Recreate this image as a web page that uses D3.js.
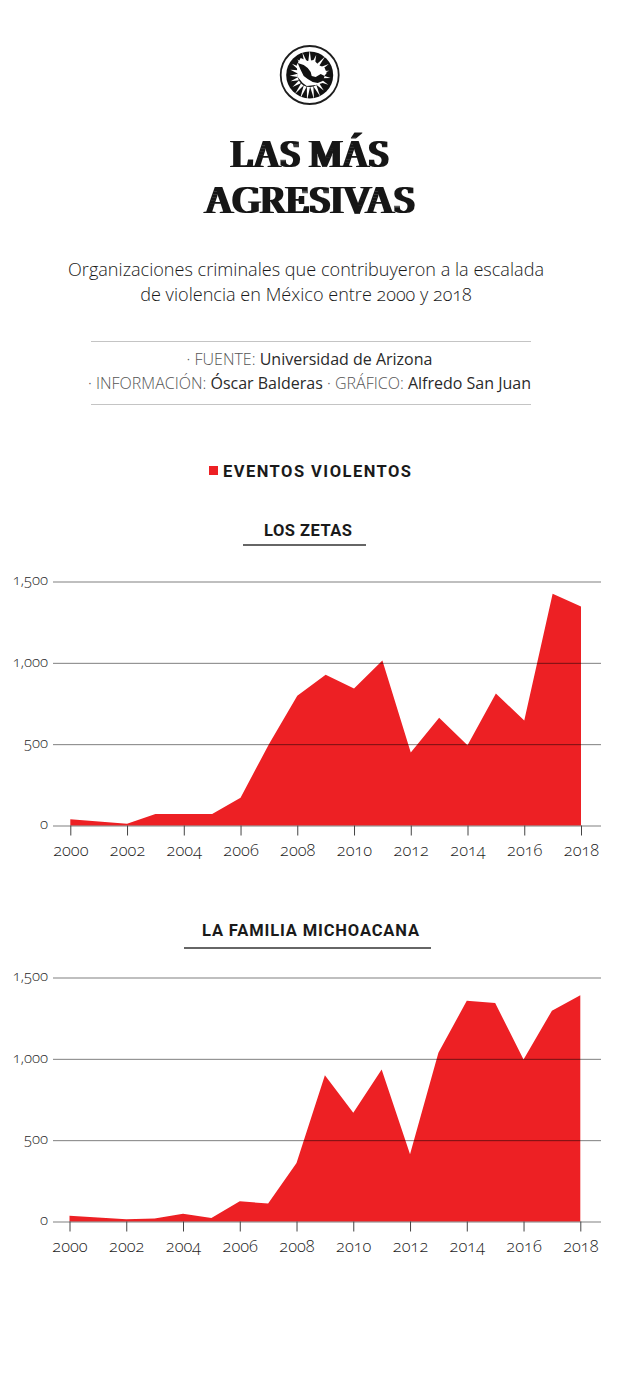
<!DOCTYPE html>
<html><head><meta charset="utf-8">
<script src="https://cdnjs.cloudflare.com/ajax/libs/d3/7.8.5/d3.min.js"></script>
<style>
html,body{margin:0;padding:0;background:#fff}
svg{display:block}
text{font-family:"Open Sans",sans-serif;fill:#1a1a1a}
.ax{font-family:"Open Sans",sans-serif;font-weight:300;font-size:16.5px;font-feature-settings:"onum" 1;fill:#1f1f1f}
.ay{font-size:15px}
.head{font-family:Roboto,sans-serif;font-weight:700;fill:#1a1a1a}
.ttl{font-family:"Liberation Serif",serif;font-weight:400;font-size:39px;fill:#161616}
</style></head><body>
<div id="c"></div>
<script>
const years = d3.range(2000, 2019);
const zetas = [39,25,10,70,70,70,170,500,797,926,842,1014,449,662,494,811,645,1424,1346];
const familia = [35,25,14,18,47,22,125,110,360,899,668,934,414,1037,1357,1343,996,1296,1391];
const yTicks = [0,500,1000,1500];
const xTicks = d3.range(2000,2019,2);
const panels = [
 {name:"LOS ZETAS", values:zetas, top:581.5, bottom:825.5, x0:70.3, x1:581, titleX:264, titleY:535.7, rule:[243,366], ruleY:545, len:88},
 {name:"LA FAMILIA MICHOACANA", values:familia, top:977.5, bottom:1221.5, x0:69.5, x1:580.3, titleX:202, titleY:936, rule:[184,431], ruleY:948, len:217}
];
const W=618,H=1383;
const RED="#ed2024";
const svg=d3.select("#c").append("svg").attr("width",W).attr("height",H);
const defs=svg.append("defs");
defs.append("filter").attr("id","didone").attr("x","-5%").attr("y","-5%").attr("width","110%").attr("height","110%")
 .append("feMorphology").attr("operator","dilate").attr("radius","1.8 0");

// logo
const logo=svg.append("g").attr("transform","translate(309.7,75)");
logo.append("circle").attr("r",29).attr("fill","#fff").attr("stroke","#1e1e1e").attr("stroke-width",1.8);
logo.append("circle").attr("r",23.5).attr("fill","#111");
const rays=[[-165,8],[-148,9],[-128,8],[-108,12],[-90,13],[-72,9],[-50,12],[-30,10],[-12,8],[8,9],[28,9],[48,9],[64,12],[80,13],[96,14],[112,14],[128,12],[145,9],[162,8],[178,8]];
logo.append("path").attr("fill","#fff").attr("d","M-13,-10L-9,-17L-2,-14L4,-15L9,-10L15,-7L17,-2L13,3L13,8L6,10L-3,11L-7,8L-12,2Z");
rays.forEach(([a,l])=>{
 const t=a*Math.PI/180,n=t+Math.PI/2,r0=12,r1=r0+l,w=1.6;
 const c=Math.cos(t),s=Math.sin(t),cn=Math.cos(n),sn=Math.sin(n);
 logo.append("path").attr("fill","#fff").attr("d",`M${r0*c-w*cn},${r0*s-w*sn}L${r1*c},${r1*s}L${r0*c+w*cn},${r0*s+w*sn}Z`);
});
logo.append("path").attr("fill","#111").attr("d","M-12,-12L-6,-10L-2,-7L1,-3L2,1L6,2L11,-1L15,1L13,6L8,8L3,7L-2,4L-6,1L-9,-5Z");

// title
[["LAS MÁS",166.7,158],["AGRESIVAS",213,210]].forEach(([t,y,len])=>{
 svg.append("text").attr("class","ttl").attr("x",310).attr("y",y).attr("text-anchor","middle")
  .attr("textLength",len).attr("lengthAdjust","spacingAndGlyphs").attr("filter","url(#didone)").text(t);
});
// subtitle
[["Organizaciones criminales que contribuyeron a la escalada",276],["de violencia en México entre 2000 y 2018",301]].forEach(([t,y])=>{
 svg.append("text").attr("x",306).attr("y",y).attr("text-anchor","middle").attr("font-size",18.1).attr("font-weight",300).style("font-feature-settings",'"onum" 1').text(t);
});
// credits
[[341],[404]].forEach(([y])=>svg.append("line").attr("x1",91).attr("x2",531).attr("y1",y+0.5).attr("y2",y+0.5).attr("stroke","#c4c4c4"));
const cr=(y,parts)=>{const t=svg.append("text").attr("x",W/2+0.5).attr("y",y).attr("text-anchor","middle").attr("font-size",16);
 parts.forEach(([s,l])=>t.append("tspan").attr("font-weight",l?300:400).attr("fill",l?"#555":"#2a2a2a").text(s));};
cr(365,[["· FUENTE: ",1],["Universidad de Arizona",0]]);
cr(389,[["· INFORMACIÓN: ",1],["Óscar Balderas ",0],["· GRÁFICO: ",1],["Alfredo San Juan",0]]);
// legend
svg.append("rect").attr("x",209).attr("y",466).attr("width",9).attr("height",9).attr("fill",RED);
svg.append("text").attr("class","head").attr("x",223).attr("y",476.7).attr("font-size",16.5).attr("textLength",188).attr("lengthAdjust","spacing").text("EVENTOS VIOLENTOS");

panels.forEach(p=>{
 const x=d3.scaleLinear().domain([2000,2018]).range([p.x0,p.x1]);
 const y=d3.scaleLinear().domain([0,1500]).range([p.bottom,p.top]);
 svg.append("text").attr("class","head").attr("x",p.titleX).attr("y",p.titleY).attr("font-size",16.5).attr("textLength",p.len).attr("lengthAdjust","spacing").text(p.name);
 svg.append("line").attr("x1",p.rule[0]).attr("x2",p.rule[1]).attr("y1",p.ruleY).attr("y2",p.ruleY).attr("stroke","#333").attr("stroke-width",1.6);
 const area=d3.area().x((d,i)=>x(years[i])).y0(y(0)).y1(d=>y(d));
 svg.append("path").datum(p.values).attr("fill",RED).attr("d",area);
 const yAxis=d3.axisLeft(y).tickValues(yTicks).tickSize(0).tickPadding(5).tickFormat(d3.format(","));
 const gy=svg.append("g").attr("transform",`translate(53,0)`).call(yAxis);
 gy.select(".domain").remove();
 gy.selectAll("text").attr("class","ax ay").attr("dy","0.22em");
 gy.selectAll(".tick").append("line").attr("x1",0).attr("x2",548).attr("stroke","#000").attr("stroke-opacity",0.5).attr("stroke-width",1);
 const xAxis=d3.axisBottom(x).tickValues(xTicks).tickSize(10).tickPadding(5).tickFormat(d3.format("d"));
 const gx=svg.append("g").attr("transform",`translate(0,${p.bottom})`).call(xAxis);
 gx.select(".domain").remove();
 gx.selectAll("line").attr("stroke","#444");
 gx.selectAll("text").attr("class","ax").attr("y",30).attr("dy",0);
});
</script></body></html>
